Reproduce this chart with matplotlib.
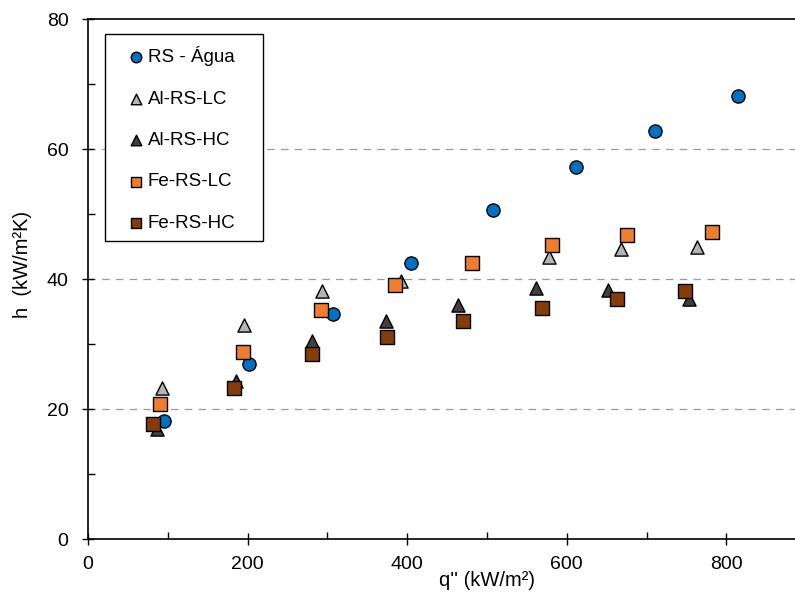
import matplotlib.pyplot as plt
from matplotlib.ticker import MultipleLocator
from matplotlib.patches import Rectangle

plt.rcParams['font.family'] = ['Liberation Sans', 'DejaVu Sans']

# RS - Agua
q_rs = [95, 202, 307, 405, 508, 611, 711, 815]
h_rs = [18.1, 26.9, 34.7, 42.4, 50.6, 57.3, 62.7, 68.2]

# Al-RS-LC
q_al_lc = [93, 195, 293, 392, 578, 668, 763]
h_al_lc = [23.2, 32.9, 38.1, 39.7, 43.4, 44.6, 45.0]

# Al-RS-HC
q_al_hc = [87, 185, 281, 374, 464, 562, 652, 753]
h_al_hc = [16.9, 24.3, 30.4, 33.6, 36.0, 38.6, 38.3, 36.9]

# Fe-RS-LC
q_fe_lc = [90, 194, 292, 385, 481, 582, 675, 782]
h_fe_lc = [20.8, 28.8, 35.2, 39.1, 42.5, 45.3, 46.8, 47.3]

# Fe-RS-HC
q_fe_hc = [82, 183, 281, 375, 470, 569, 663, 748]
h_fe_hc = [17.7, 23.2, 28.4, 31.1, 33.6, 35.6, 37.0, 38.2]

fig = plt.figure(figsize=(7.95, 5.95), dpi=100)
ax = fig.add_axes([0.1107, 0.094, 0.8893, 0.874])

ms = 90
ax.scatter(q_rs, h_rs, s=ms, marker="o", c="#0070C0", edgecolors="black", linewidths=1, label="RS - Água", zorder=3)
ax.scatter(q_al_lc, h_al_lc, s=ms, marker="^", c="#B4B4B4", edgecolors="black", linewidths=1, label="Al-RS-LC", zorder=3)
ax.scatter(q_al_hc, h_al_hc, s=ms, marker="^", c="#404040", edgecolors="black", linewidths=1, label="Al-RS-HC", zorder=3)
ax.scatter(q_fe_lc, h_fe_lc, s=ms, marker="s", c="#ED7D31", edgecolors="black", linewidths=1, label="Fe-RS-LC", zorder=3)
ax.scatter(q_fe_hc, h_fe_hc, s=ms, marker="s", c="#843C0C", edgecolors="black", linewidths=1, label="Fe-RS-HC", zorder=3)

ax.set_xlim(0, 886)
ax.set_ylim(0, 80)
ax.xaxis.set_major_locator(MultipleLocator(200))
ax.xaxis.set_minor_locator(MultipleLocator(100))
ax.yaxis.set_major_locator(MultipleLocator(20))
ax.yaxis.set_minor_locator(MultipleLocator(10))

for y in [20, 40, 60]:
    ax.axhline(y, color="#9A9A9A", linestyle=(0, (6, 5)), linewidth=0.9, zorder=1)

ax.spines["right"].set_visible(False)
for s in ["left", "bottom", "top"]:
    ax.spines[s].set_linewidth(1.2)

ax.tick_params(axis="both", which="major", direction="inout", length=8, width=1, labelsize=14)
ax.tick_params(axis="y", which="major", pad=10)
ax.tick_params(axis="x", which="major", pad=8)
ax.tick_params(axis="both", which="minor", direction="in", length=5, width=1)
ax.tick_params(axis="x", which="both", top=False)

ax.set_xlabel("q'' (kW/m²)", fontsize=14.5)
ax.set_ylabel("h  (kW/m²K)", fontsize=14.5)
# the original plot area ran past the picture's right edge, so the x label sits right of centre
ax.xaxis.set_label_coords(0.564, -0.079)
ax.yaxis.set_label_coords(-0.093, 0.529)
ax.xaxis.label.set_va("center")
ax.yaxis.label.set_va("center")

# legend box drawn separately so its padding matches
box = Rectangle((105 / 795, 1 - 241 / 595), 158 / 795, 207 / 595, transform=fig.transFigure,
                facecolor="white", edgecolor="black", linewidth=1.0, zorder=4, clip_on=False)
ax.add_patch(box)

leg = ax.legend(loc="upper left", bbox_to_anchor=(127 / 795, 1 - 46 / 595),
                bbox_transform=fig.transFigure, fontsize=13.5, frameon=False,
                borderpad=0, labelspacing=1.3, handletextpad=0.1, handlelength=1.0,
                borderaxespad=0, markerscale=0.8)
leg.set_zorder(5)

fig.savefig("out.png", dpi=100)
